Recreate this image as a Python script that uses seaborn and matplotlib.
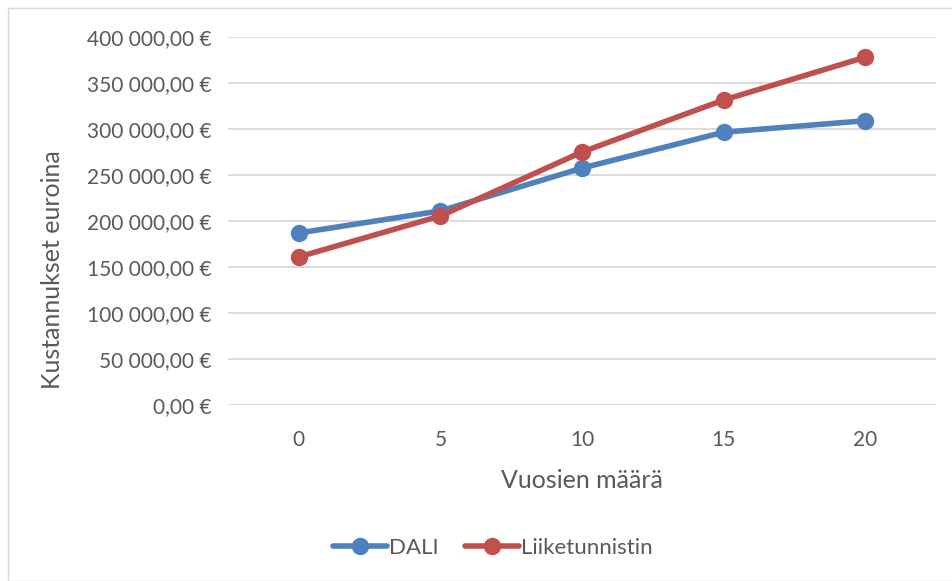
import pandas as pd
import matplotlib.pyplot as plt
import seaborn as sns
from matplotlib.patches import Rectangle

vuodet = [0, 5, 10, 15, 20]
dali = [187000, 211000, 257500, 296500, 309000]
liiketunnistin = [161000, 205500, 275000, 331500, 378000]

df = pd.DataFrame({
    "pos": list(range(len(vuodet))) * 2,
    "Kustannukset": dali + liiketunnistin,
    "Sarja": ["DALI"] * len(vuodet) + ["Liiketunnistin"] * len(vuodet),
})

sns.set_style("white")
plt.rcParams["font.family"] = ["Lato", "DejaVu Sans"]
grey = "#595959"

fig = plt.figure(figsize=(9.53, 5.81), dpi=100)
ax = fig.add_axes([228 / 953, 1 - 405 / 581, (936 - 228) / 953, (405 - 37) / 581])

sns.lineplot(data=df, x="pos", y="Kustannukset", hue="Sarja",
             palette={"DALI": "#4F81BD", "Liiketunnistin": "#C0504D"},
             marker="o", markersize=12.5, markeredgewidth=0, linewidth=4,
             ax=ax, legend=True)

ax.set_xlim(-0.5, len(vuodet) - 0.5)
ax.set_ylim(0, 400000)
ax.set_yticks(range(0, 400001, 50000))
ax.set_yticklabels([f"{v:,}".replace(",", " ") + ",00 €" if v else "0,00 €"
                    for v in range(0, 400001, 50000)])
ax.set_xticks(range(len(vuodet)))
ax.set_xticklabels([str(v) for v in vuodet])
ax.grid(axis="y", color="#D9D9D9", linewidth=1.3)
ax.set_axisbelow(True)
for s in ax.spines.values():
    s.set_visible(False)
ax.tick_params(axis="both", length=0, labelsize=15, labelcolor=grey)
ax.tick_params(axis="y", pad=12)
ax.tick_params(axis="x", pad=18)
ax.set_xlabel("Vuosien määrä", fontsize=18, color=grey, labelpad=14)
ax.set_ylabel("Kustannukset euroina", fontsize=18, color=grey, va="center")
ax.yaxis.set_label_coords((53 - 228) / 708, (405 - 270) / 368)

handles, labels = ax.get_legend_handles_labels()
ax.legend(handles, labels, loc="center", bbox_to_anchor=(493 / 953, 1 - 548 / 581),
          bbox_transform=fig.transFigure, ncol=2, frameon=False,
          fontsize=16, labelcolor=grey, handlelength=2.4, handletextpad=0.1,
          columnspacing=1.2)

fig.patches.append(Rectangle((8 / 953, 0), 1, 1 - 8 / 581, transform=fig.transFigure,
                             fill=False, edgecolor="#D9D9D9", linewidth=1))

fig.savefig("out.png", dpi=100)
